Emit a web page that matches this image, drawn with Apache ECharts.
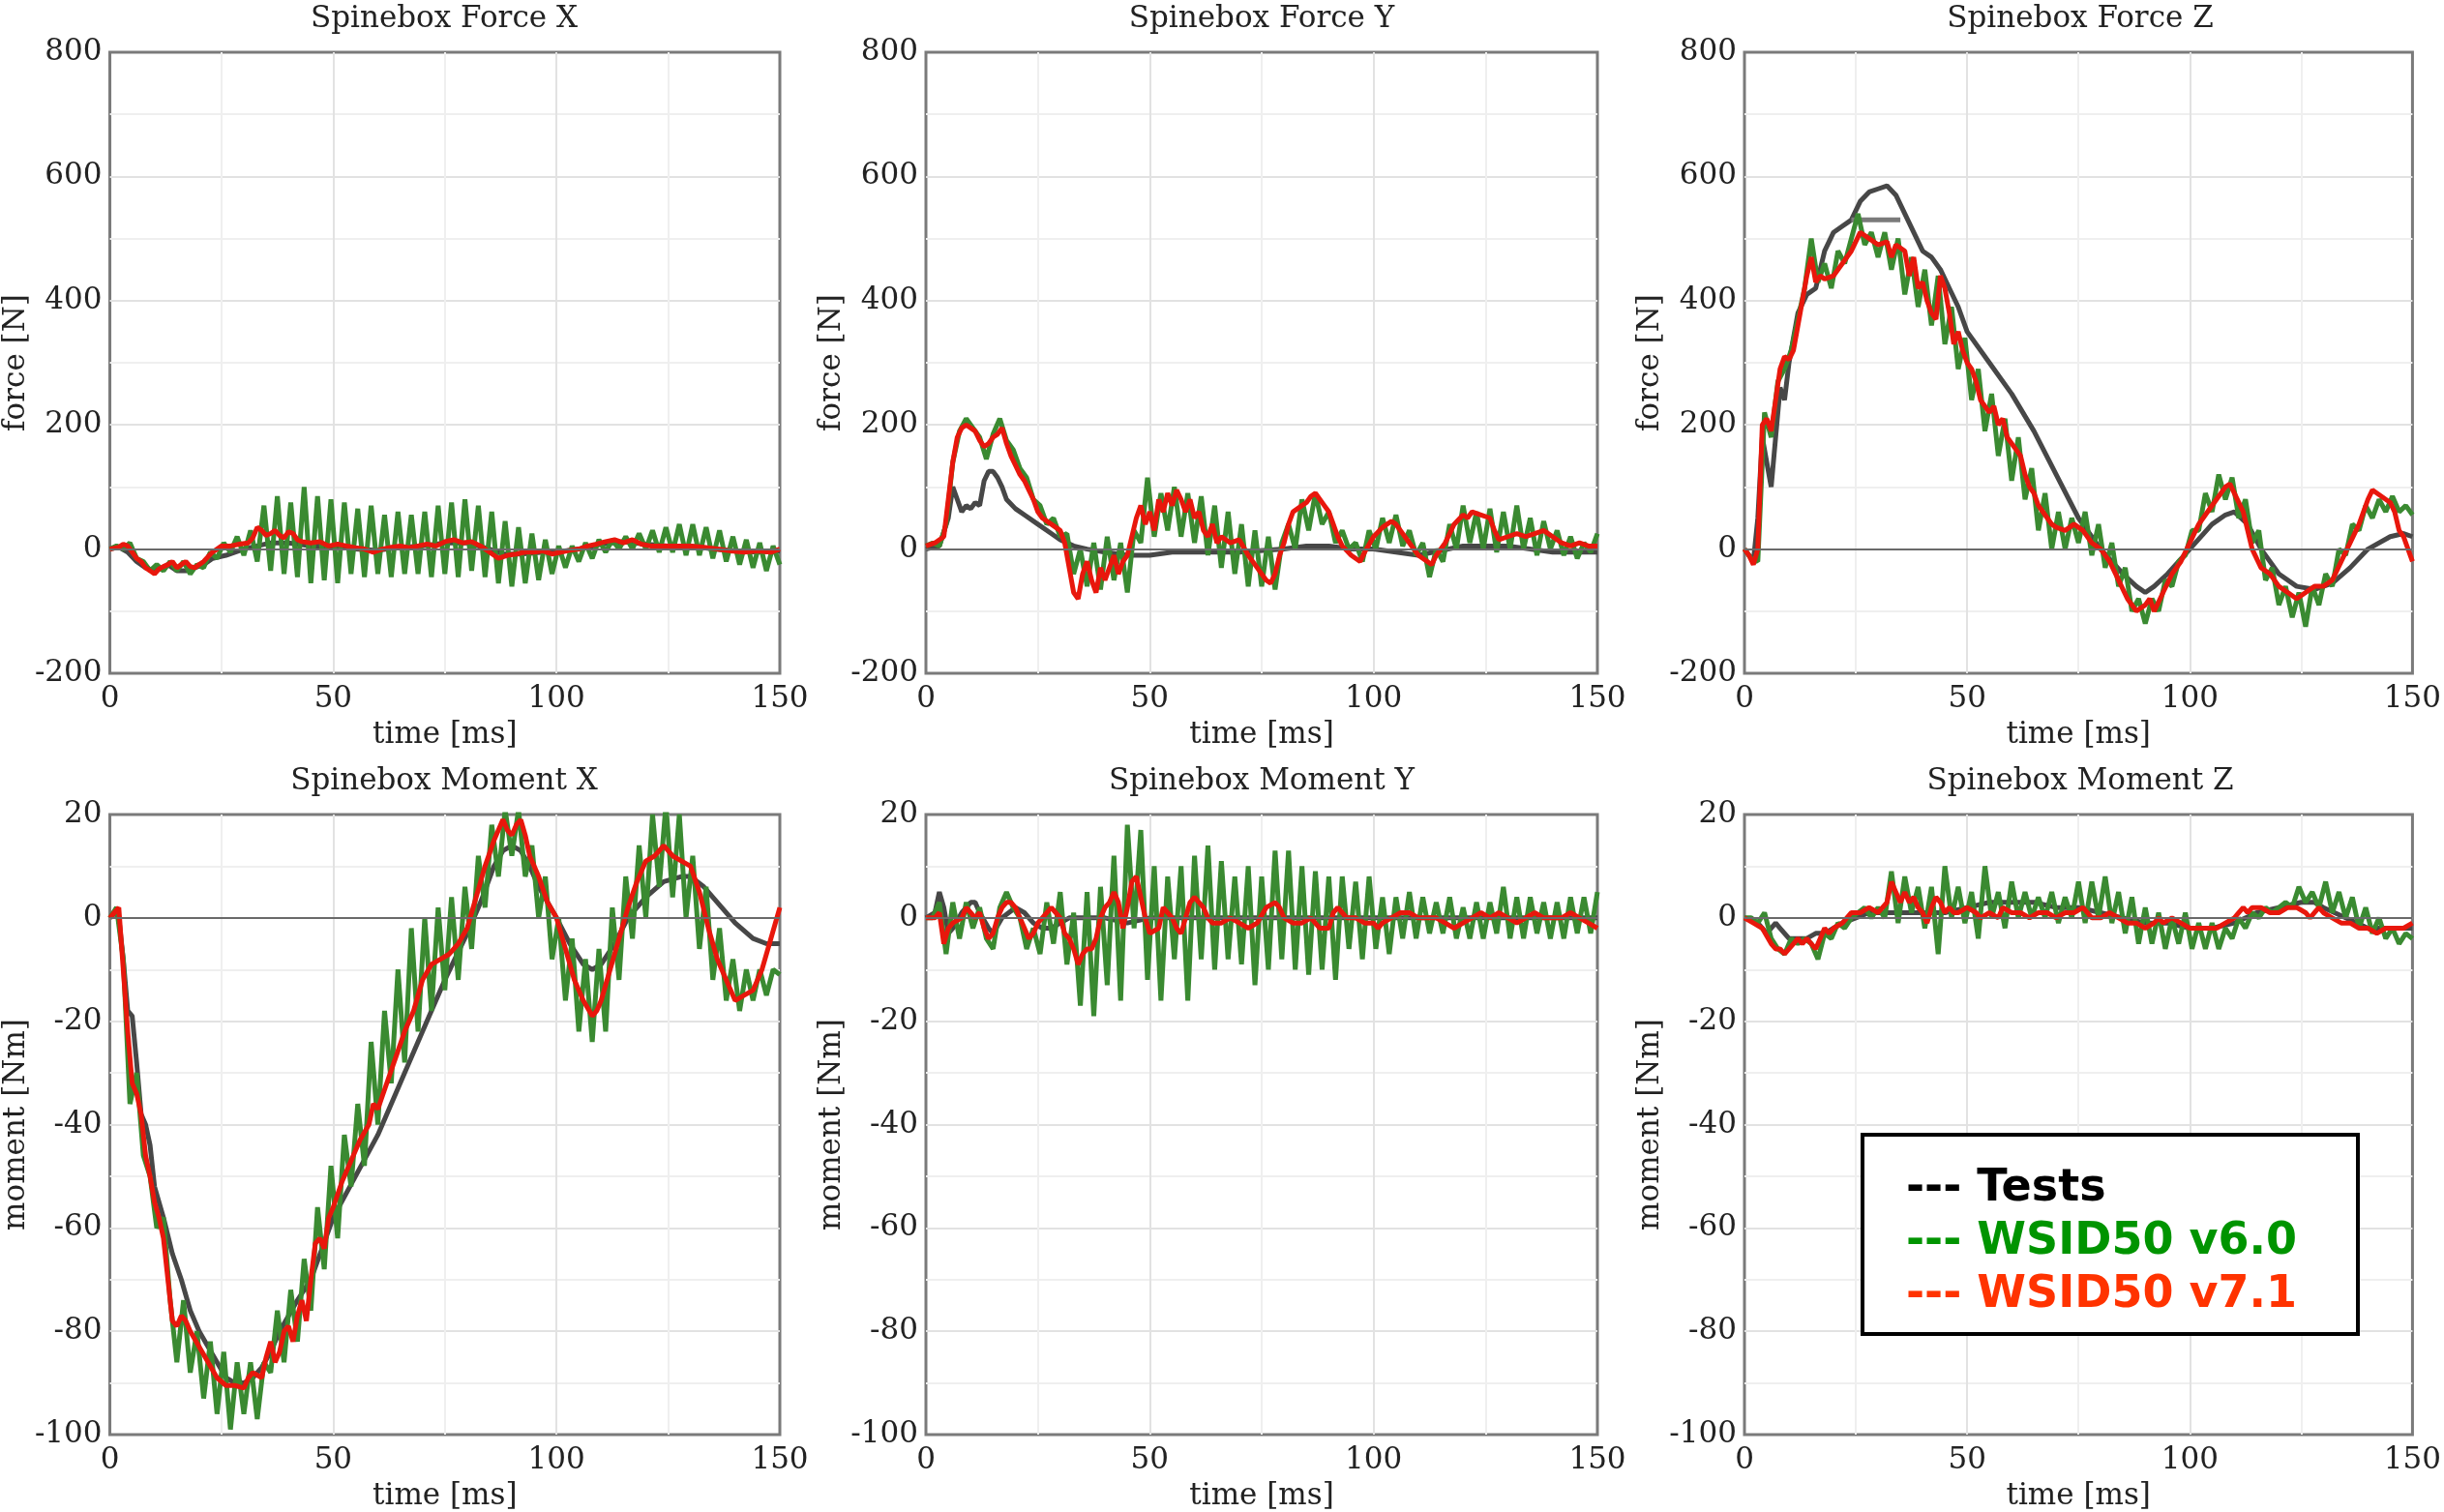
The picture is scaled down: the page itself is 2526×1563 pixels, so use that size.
<!DOCTYPE html>
<html><head><meta charset="utf-8">
<script src="https://cdn.jsdelivr.net/npm/echarts@6/dist/echarts.min.js"></script>
<style>html,body{margin:0;padding:0;background:#fff}#c{width:2526px;height:1563px}</style>
</head><body><div id="c"></div>
<script>
// ---------- DATA ----------
const TIME_TICKS = [0, 50, 100, 150];
const GREEN_STEP = 1.5; // ms between green samples
const LEGEND_NAMES = ['Tests', 'WSID50 v6.0', 'WSID50 v7.1'];
const TITLES = ['Spinebox Force X','Spinebox Force Y','Spinebox Force Z','Spinebox Moment X','Spinebox Moment Y','Spinebox Moment Z'];
const Y_NAMES = ['force [N]','force [N]','force [N]','moment [Nm]','moment [Nm]','moment [Nm]'];
const FORCE_RANGE = [-200, 800, 200];
const MOMENT_RANGE = [-100, 20, 20];

// Force X
const FX_TEST = [[0,0],[2,3],[4,-5],[6,-20],[8,-30],[10,-35],[12,-30],[13,-25],[15,-35],[17,-35],[19,-30],[21,-25],[23,-15],[26,-10],[30,0],[33,5],[36,10],[40,10],[45,5],[50,5],[55,0],[60,-2],[65,3],[70,5],[75,10],[80,10],[85,0],[88,-8],[92,-8],[97,-5],[100,-5],[105,0],[110,8],[115,12],[120,8],[125,5],[130,5],[135,0],[140,-3],[145,-5],[150,-3]];
const FX_RED = [[0,0],[2,3],[3,8],[4,5],[5,-5],[6,-15],[7,-20],[8,-30],[9,-35],[10,-40],[11,-32],[12,-28],[13,-25],[14,-20],[15,-30],[16,-25],[17,-20],[18,-28],[19,-30],[20,-25],[21,-20],[22,-12],[23,-5],[24,0],[25,5],[27,5],[29,8],[31,10],[32,18],[33,35],[34,30],[35,22],[36,25],[37,30],[38,22],[39,18],[40,28],[41,25],[42,15],[43,12],[45,10],[47,12],[49,5],[51,8],[53,5],[55,2],[57,0],[59,-5],[61,0],[63,3],[65,5],[67,2],[69,5],[71,8],[73,5],[75,12],[77,15],[79,10],[81,12],[83,5],[85,-5],[87,-15],[89,-10],[91,-8],[93,-5],[95,-5],[97,-3],[99,-8],[101,-5],[103,-2],[105,0],[107,5],[109,8],[111,12],[113,15],[115,10],[117,15],[119,8],[121,5],[124,5],[127,5],[130,5],[133,3],[136,0],[139,-3],[142,-5],[145,-3],[148,-5],[150,0]];
const FX_GREEN = [0,5,0,10,-15,-20,-35,-25,-35,-20,-35,-20,-40,-25,-30,-5,-15,10,-5,20,-10,30,-20,70,-35,85,-40,75,-45,100,-55,85,-50,80,-55,75,-40,65,-45,70,-40,55,-45,60,-40,55,-40,60,-45,70,-40,75,-45,80,-35,70,-45,60,-55,45,-60,35,-55,25,-50,15,-40,5,-30,5,-20,10,-15,15,-5,15,0,20,0,25,0,30,-5,35,-5,40,-10,40,-10,35,-15,30,-20,20,-25,15,-30,10,-35,5,-25];

// Force Y
const FY_TEST = [[0,0],[3,5],[5,50],[6,100],[7,80],[8,60],[9,70],[10,65],[11,75],[12,70],[13,110],[14,125],[15,125],[16,115],[17,100],[18,80],[20,65],[22,55],[25,40],[28,25],[30,15],[33,5],[36,0],[40,-5],[45,-10],[50,-10],[55,-5],[60,-5],[70,-5],[80,0],[85,5],[90,5],[95,0],[100,0],[105,-5],[110,-10],[120,5],[125,5],[130,5],[140,-5],[150,-5]];
const FY_RED = [[0,5],[2,10],[4,20],[5,80],[6,140],[7,180],[8,195],[9,200],[10,195],[11,190],[12,175],[13,165],[14,170],[15,180],[16,185],[17,195],[18,170],[19,150],[20,135],[21,120],[22,110],[23,95],[24,80],[25,60],[26,50],[28,40],[30,30],[31,10],[32,-30],[33,-70],[34,-80],[35,-40],[36,-20],[37,-50],[38,-70],[39,-30],[40,-50],[41,-30],[42,-10],[43,-40],[44,-20],[45,-10],[46,20],[47,50],[48,70],[49,40],[50,60],[51,30],[52,80],[53,60],[54,90],[55,70],[56,95],[57,80],[58,60],[59,80],[60,50],[61,60],[62,30],[63,20],[64,40],[65,10],[66,20],[68,10],[70,15],[72,-10],[74,-30],[76,-50],[77,-55],[78,-40],[79,-10],[80,10],[81,40],[82,60],[83,65],[84,70],[85,75],[86,85],[87,90],[88,80],[89,70],[90,60],[91,40],[92,20],[93,5],[95,-10],[97,-20],[98,-5],[100,20],[102,35],[104,45],[105,40],[106,30],[108,10],[110,-10],[112,-20],[113,-25],[114,-10],[116,10],[118,40],[120,55],[121,50],[122,60],[124,55],[126,50],[127,30],[128,15],[130,20],[132,25],[134,20],[136,25],[138,30],[140,20],[142,10],[144,5],[146,10],[148,5],[150,5]];
const FY_GREEN = [5,10,5,40,140,190,210,195,180,145,185,210,175,160,130,115,80,70,40,50,20,25,-40,0,-60,10,-65,20,-50,10,-70,30,10,115,20,90,30,100,20,90,10,85,-10,70,-30,60,-40,40,-60,30,-60,20,-65,10,40,0,80,30,90,40,60,10,30,0,10,-20,30,0,50,10,55,5,30,-10,10,-45,0,-20,40,0,70,10,60,0,65,-5,60,0,70,0,50,-10,45,0,30,-10,20,-15,10,-5,25];

// Force Z
const FZ_TEST = [[0,0],[1,-10],[2,-20],[3,50],[4,180],[5,140],[6,100],[7,180],[8,260],[9,240],[10,300],[12,380],[14,410],[16,420],[18,480],[20,510],[22,520],[24,530],[26,560],[28,575],[30,580],[32,585],[34,570],[36,540],[38,510],[40,480],[42,470],[44,450],[46,420],[48,390],[50,350],[55,300],[60,250],[65,190],[70,120],[75,50],[80,0],[85,-40],[88,-60],[90,-70],[92,-60],[95,-40],[100,0],[105,40],[108,55],[110,60],[113,40],[116,0],[120,-40],[124,-60],[128,-65],[132,-55],[136,-30],[140,0],[145,20],[148,25],[150,20]];
const FZ_TEST_B = [[24,530],[35,530]];
const FZ_RED = [[0,0],[1,-10],[2,-25],[3,0],[4,200],[5,210],[6,190],[7,240],[8,290],[9,310],[10,305],[11,320],[12,360],[13,400],[14,440],[15,470],[16,430],[17,440],[18,435],[20,440],[22,460],[24,480],[26,510],[28,500],[30,490],[32,495],[33,470],[34,490],[36,480],[37,440],[38,470],[39,420],[40,430],[41,400],[42,380],[43,370],[44,440],[45,420],[46,380],[47,330],[48,350],[49,320],[50,300],[51,290],[52,270],[53,240],[54,230],[55,220],[56,230],[57,200],[58,210],[59,180],[60,170],[61,160],[62,150],[63,120],[64,100],[65,90],[66,70],[67,60],[68,50],[69,40],[70,35],[72,30],[74,40],[76,30],[78,10],[80,0],[82,-20],[84,-50],[86,-80],[88,-100],[90,-90],[91,-80],[92,-100],[94,-70],[96,-40],[98,-20],[100,10],[102,40],[104,60],[106,80],[108,100],[109,105],[110,90],[112,60],[114,0],[116,-30],[118,-40],[120,-60],[122,-70],[124,-80],[126,-70],[128,-60],[130,-60],[132,-50],[134,-20],[136,10],[138,40],[140,80],[141,95],[142,90],[144,80],[145,75],[146,60],[147,30],[148,20],[149,0],[150,-20]];
const FZ_GREEN = [0,-15,-20,220,180,270,290,320,370,420,500,430,460,420,480,460,500,540,490,510,470,510,450,500,410,470,390,450,360,440,330,390,290,340,240,290,190,250,150,210,110,180,80,130,30,90,0,60,0,50,10,60,-10,40,-30,10,-60,-30,-100,-80,-120,-80,-100,-50,-60,-20,-10,30,30,90,60,120,80,115,50,80,10,30,-50,-30,-90,-60,-110,-70,-125,-60,-90,-40,-60,0,-10,40,30,70,50,80,60,85,60,70,55];

// Moment X
const MX_TEST = [[0,0],[1,1],[2,0],[3,-8],[4,-18],[5,-19],[6,-28],[7,-38],[8,-40],[9,-44],[10,-52],[12,-58],[14,-65],[16,-70],[18,-76],[20,-80],[22,-83],[24,-86],[26,-89],[28,-90],[30,-90],[32,-89],[34,-87],[36,-84],[38,-80],[40,-77],[42,-74],[45,-70],[50,-58],[55,-50],[60,-42],[65,-32],[70,-22],[75,-12],[80,-3],[83,3],[86,10],[88,13],[90,14],[92,13],[94,10],[96,6],[100,0],[103,-5],[106,-9],[108,-10],[110,-9],[113,-5],[116,0],[120,4],[124,7],[128,8],[130,8],[133,6],[137,2],[140,-1],[144,-4],[147,-5],[150,-5]];
const MX_RED = [[0,0],[1,1],[2,2],[3,-10],[4,-22],[5,-32],[6,-34],[7,-38],[8,-46],[9,-50],[10,-55],[11,-58],[12,-62],[13,-70],[14,-78],[15,-79],[16,-77],[17,-78],[18,-80],[20,-83],[22,-86],[24,-89],[26,-90.5],[28,-90.5],[30,-91],[31,-89],[32,-88],[34,-89],[35,-85],[36,-82],[37,-86],[38,-84],[39,-80],[40,-79],[41,-82],[42,-77],[43,-74],[44,-78],[45,-70],[46,-63],[47,-62],[48,-64],[49,-58],[50,-56],[52,-51],[54,-47],[56,-43],[58,-40],[59,-36],[60,-37],[62,-32],[64,-27],[66,-22],[68,-18],[70,-12],[72,-9],[74,-8],[76,-7],[78,-5],[80,-2],[82,4],[84,10],[86,15],[88,19],[89,17],[90,16],[91,18],[92,19],[93,16],[94,12],[96,8],[98,3],[100,0],[102,-6],[104,-12],[106,-16],[108,-19],[109,-18],[110,-16],[112,-10],[114,-4],[116,2],[118,7],[120,11],[122,12],[124,14],[126,12],[128,11],[130,10],[132,5],[134,-2],[136,-8],[138,-12],[140,-16],[142,-15],[144,-14],[146,-10],[148,-4],[150,2]];
const MX_GREEN = [0,2,-8,-36,-30,-46,-50,-60,-58,-74,-86,-74,-88,-80,-93,-82,-96,-84,-99,-86,-96,-86,-97,-86,-88,-76,-86,-72,-82,-66,-76,-56,-68,-48,-62,-42,-52,-36,-48,-24,-40,-18,-32,-10,-28,-2,-22,0,-18,2,-14,4,-12,6,-6,12,2,18,8,21,12,21,8,14,0,8,-8,0,-16,-4,-22,-8,-24,-6,-22,2,-12,8,-4,14,0,20,6,22,4,20,0,12,-6,6,-12,-2,-16,-8,-18,-10,-16,-10,-15,-10,-11];

// Moment Y
const MY_TEST = [[0,0],[2,1],[3,5],[4,2],[5,-3],[6,-2],[8,1],[10,3],[11,3],[12,1],[14,-2],[15,-3],[17,0],[20,2],[22,1],[24,-1],[26,-2],[28,-2],[30,-1],[32,0],[35,0],[40,0],[45,-1],[50,0],[60,0],[70,0],[80,0],[100,0],[150,0]];
const MY_RED = [[0,0],[2,0],[3,1],[4,-5],[5,-2],[6,-1],[8,0],[9,2],[10,1],[11,0],[12,1],[13,-2],[14,-4],[15,-3],[16,0],[17,2],[18,3],[19,3],[20,2],[21,0],[22,-2],[23,-4],[24,-3],[25,-1],[26,0],[28,2],[29,1],[30,0],[31,-3],[32,-4],[33,-6],[34,-9],[35,-7],[36,-6],[37,-6],[38,-4],[39,0],[40,2],[41,3],[42,5],[43,3],[44,-2],[45,2],[46,7],[47,8],[48,4],[49,0],[50,-3],[52,-2],[53,2],[54,1],[55,0],[56,-2],[57,-3],[58,0],[59,3],[60,4],[61,3],[62,2],[63,0],[64,-1],[66,-1],[68,0],[70,-1],[72,-2],[74,-1],[76,2],[78,3],[79,2],[80,0],[82,-1],[84,-1],[86,0],[88,-2],[90,-2],[91,1],[92,2],[93,1],[94,0],[96,0],[98,-1],[100,-1],[101,-2],[102,-1],[104,0],[106,1],[108,1],[110,0],[112,0],[114,0],[116,-1],[118,-2],[120,-1],[122,0],[124,1],[126,0],[128,1],[130,0],[132,-1],[134,0],[136,1],[138,0],[140,0],[142,0],[144,1],[146,0],[148,-1],[150,-2]];
const MY_GREEN = [0,0,3,-7,3,-4,3,-2,2,-4,-6,2,5,2,0,-6,-2,-7,3,-5,5,-9,1,-17,5,-19,6,-13,12,-16,18,-2,17,-12,10,-16,8,-8,10,-16,12,-8,14,-10,11,-8,8,-9,10,-13,8,-10,13,-8,13,-10,10,-11,9,-10,8,-12,8,-6,7,-8,8,-6,4,-7,4,-4,5,-4,4,-3,3,-3,4,-4,2,-4,3,-4,3,-3,6,-4,4,-4,4,-3,3,-4,3,-4,4,-3,4,-3,5];

// Moment Z
const MZ_TEST = [[0,0],[3,-1],[5,-3],[7,-1],[8,-2],[10,-4],[12,-4],[14,-4],[16,-3],[18,-3],[20,-2],[22,-1],[25,0],[28,1],[30,1],[35,1],[40,1],[45,1],[50,2],[55,3],[60,3],[65,3],[70,2],[75,2],[80,1],[85,0],[90,-1],[95,-1],[100,-2],[105,-2],[110,-1],[115,1],[120,2],[125,3],[128,3],[130,2],[135,0],[140,-2],[145,-2],[150,-2]];
const MZ_RED = [[0,0],[2,-1],[4,-2],[6,-5],[7,-6],[8,-6],[9,-7],[10,-6],[11,-5],[12,-4],[13,-5],[14,-4],[15,-5],[16,-6],[17,-4],[18,-2],[19,-3],[20,-2],[22,-1],[24,1],[26,1],[28,2],[30,1],[32,3],[33,7],[34,5],[35,3],[36,5],[37,3],[38,4],[39,2],[40,1],[41,-1],[42,2],[43,4],[44,3],[45,1],[46,2],[47,1],[48,1],[50,2],[52,1],[53,0],[55,1],[57,0],[58,2],[60,1],[62,1],[64,0],[66,1],[68,1],[70,0],[72,1],[74,1],[76,2],[77,1],[78,0],[80,0],[82,1],[84,0],[86,-1],[88,-1],[90,-2],[92,-1],[93,0],[94,-1],[96,0],[98,-1],[100,-2],[102,-2],[104,-2],[106,-2],[108,-1],[110,0],[111,1],[112,2],[113,1],[114,2],[116,2],[118,1],[120,1],[122,2],[124,2],[126,1],[127,0],[128,1],[129,2],[130,1],[132,0],[134,-1],[136,-1],[138,-2],[140,-2],[142,-3],[144,-2],[146,-2],[148,-2],[150,-1]];
const MZ_GREEN = [0,0,-1,1,-4,-6,-7,-4,-5,-4,-5,-8,-3,-4,-1,-2,0,1,2,0,2,0,9,-1,8,1,6,-2,6,-7,10,0,6,-1,5,-4,10,0,5,-2,7,0,5,0,4,0,5,-1,4,0,7,-1,7,0,8,-1,5,-3,4,-5,2,-5,1,-6,0,-5,1,-6,-1,-6,-1,-6,-2,-4,0,-2,1,0,2,1,2,3,2,6,3,5,2,7,1,5,0,4,-2,2,-3,0,-4,-2,-5,-3,-4];

// ---------- CHART ----------
const PANELS = [
  {test: FX_TEST, green: FX_GREEN, red: FX_RED, range: FORCE_RANGE},
  {test: FY_TEST, green: FY_GREEN, red: FY_RED, range: FORCE_RANGE},
  {test: FZ_TEST, green: FZ_GREEN, red: FZ_RED, range: FORCE_RANGE, testB: FZ_TEST_B},
  {test: MX_TEST, green: MX_GREEN, red: MX_RED, range: MOMENT_RANGE},
  {test: MY_TEST, green: MY_GREEN, red: MY_RED, range: MOMENT_RANGE},
  {test: MZ_TEST, green: MZ_GREEN, red: MZ_RED, range: MOMENT_RANGE}
];
const COL_LEFT = [112, 957, 1803];
const ROW_TOP = [54, 842];
const PW = 694, PH = 642;
const C_TEST = '#474747', C_GREEN = '#3a8a31', C_RED = '#e8170c';
const SERIF = '"DejaVu Serif", serif';

const grids = [], xAxes = [], yAxes = [], series = [], titles = [];
PANELS.forEach((p, i) => {
  const col = i % 3, row = Math.floor(i / 3);
  const left = COL_LEFT[col], top = ROW_TOP[row];
  grids.push({left: left, top: top, width: PW, height: PH, show: true, borderColor: '#7a7a7a', borderWidth: 3, backgroundColor: '#fff'});
  titles.push({text: TITLES[i], left: left + PW / 2, top: row === 0 ? 4 : 792, textAlign: 'center', padding: 0,
    textStyle: {fontFamily: SERIF, fontSize: 31, fontWeight: 'normal', color: '#222'}});
  const split = {show: true, showMinLine: false, showMaxLine: false, lineStyle: {color: '#e2e2e2', width: 2}};
  const minor = {show: true, lineStyle: {color: '#efefef', width: 2}};
  xAxes.push({type: 'value', gridIndex: i, min: TIME_TICKS[0], max: TIME_TICKS[TIME_TICKS.length - 1], interval: TIME_TICKS[1] - TIME_TICKS[0],
    name: 'time [ms]', nameLocation: 'middle', nameGap: 48,
    nameTextStyle: {fontFamily: SERIF, fontSize: 31, color: '#222'},
    axisLine: {show: false}, axisTick: {show: false},
    axisLabel: {fontFamily: SERIF, fontSize: 31, color: '#222', margin: 11},
    splitLine: split, minorTick: {show: false, splitNumber: 2}, minorSplitLine: minor});
  yAxes.push({type: 'value', gridIndex: i, min: p.range[0], max: p.range[1], interval: p.range[2],
    name: Y_NAMES[i], nameLocation: 'middle', nameGap: 80, nameRotate: 90,
    nameTextStyle: {fontFamily: SERIF, fontSize: 31, color: '#222'},
    axisLine: {show: false}, axisTick: {show: false},
    axisLabel: {fontFamily: SERIF, fontSize: 31, color: '#222', margin: 8},
    splitLine: split, minorTick: {show: false, splitNumber: 2}, minorSplitLine: minor});
  const common = {type: 'line', xAxisIndex: i, yAxisIndex: i, showSymbol: false, symbol: 'none', animation: false, silent: true};
  series.push(Object.assign({}, common, {name: LEGEND_NAMES[0], data: p.test, z: 2,
    lineStyle: {color: C_TEST, width: 5},
    markLine: {silent: true, symbol: 'none', label: {show: false}, lineStyle: {color: '#6a6a6a', width: 2, type: 'solid'}, data: [{yAxis: 0}]}}));
  if (p.testB) series.push(Object.assign({}, common, {name: LEGEND_NAMES[0] + ' b', data: p.testB, z: 2, lineStyle: {color: '#7a7a7a', width: 5}}));
  series.push(Object.assign({}, common, {name: LEGEND_NAMES[1], data: p.green.map((v, k) => [k * GREEN_STEP, v]), z: 3,
    lineStyle: {color: C_GREEN, width: 5}}));
  series.push(Object.assign({}, common, {name: LEGEND_NAMES[2], data: p.red, z: 4,
    lineStyle: {color: C_RED, width: 5}}));
});

const LEG_FONT = 'bold 46px "DejaVu Sans", sans-serif';
const graphic = [
  {type: 'rect', shape: {x: 1925, y: 1173, width: 512, height: 206}, style: {fill: '#fff', stroke: '#000', lineWidth: 4}, z: 100},
  {type: 'text', x: 1970, y: 1229, z: 101, style: {text: '--- ' + LEGEND_NAMES[0], font: LEG_FONT, fill: '#000', verticalAlign: 'middle'}},
  {type: 'text', x: 1970, y: 1284, z: 101, style: {text: '--- ' + LEGEND_NAMES[1], font: LEG_FONT, fill: '#009400', verticalAlign: 'middle'}},
  {type: 'text', x: 1970, y: 1339, z: 101, style: {text: '--- ' + LEGEND_NAMES[2], font: LEG_FONT, fill: '#ff3300', verticalAlign: 'middle'}}
];

const chart = echarts.init(document.getElementById('c'), null, {renderer: 'canvas'});
chart.setOption({backgroundColor: '#fff', animation: false, title: titles, grid: grids, xAxis: xAxes, yAxis: yAxes, series: series, graphic: graphic});
</script></body></html>
